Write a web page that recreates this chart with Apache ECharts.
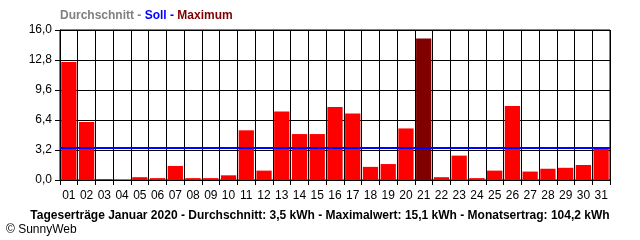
<!DOCTYPE html>
<html><head><meta charset="utf-8">
<script src="https://cdn.jsdelivr.net/npm/echarts@6/dist/echarts.min.js"></script>
<style>html,body{margin:0;padding:0;background:#fff}#c{width:640px;height:240px}</style>
</head><body><div id="c"></div>
<script>
const days = ['01','02','03','04','05','06','07','08','09','10','11','12','13','14','15','16','17','18','19','20','21','22','23','24','25','26','27','28','29','30','31'];
const yields = [12.6,6.2,0.1,0,0.3,0.2,1.5,0.2,0.2,0.5,5.3,1.0,7.3,4.9,4.9,7.8,7.1,1.4,1.7,5.5,15.1,0.3,2.6,0.2,1.0,7.9,0.9,1.2,1.3,1.6,3.5];
const target = 3.4;
const yTicks = [0, 3.2, 6.4, 9.6, 12.8, 16.0];
const maxVal = Math.max(...yields);

const chart = echarts.init(document.getElementById('c'), null, {renderer:'canvas'});
const font = 'Liberation Sans, Arial, sans-serif';
chart.setOption({
  animation:false,
  grid:{left:60,right:30,top:30,bottom:60,show:true,borderColor:'#000',borderWidth:1},
  xAxis:{type:'category',data:days,boundaryGap:true,
    axisLine:{lineStyle:{color:'#000',width:1}},
    axisTick:{show:true,length:5,lineStyle:{color:'#000'},alignWithLabel:false},
    axisLabel:{interval:0,color:'#000',fontFamily:font,fontSize:12,margin:10},
    splitLine:{show:true,interval:0,lineStyle:{color:'#000',width:1}}},
  yAxis:{type:'value',min:0,max:16,interval:3.2,
    axisLine:{show:true,lineStyle:{color:'#000'}},
    axisTick:{show:true,length:5,lineStyle:{color:'#000'}},
    axisLabel:{color:'#000',fontFamily:font,fontSize:12,margin:8,
      formatter:v=>v.toFixed(1).replace('.',',')},
    splitLine:{show:true,lineStyle:{color:'#000',width:1}}},
  series:[{type:'bar',barCategoryGap:'14%',
    data:yields.map(v=>({value:v,itemStyle:{color:v===maxVal?'#800000':'#ff0000'}})),
    markLine:{silent:true,symbol:'none',label:{show:false},
      lineStyle:{color:'#0000ff',width:2,type:'solid'},
      data:[{yAxis:target}]}}],
  graphic:[
    {type:'text',left:60,top:10,style:{
      text:'{g|Durchschnitt - }{b|Soll - }{r|Maximum}',
      rich:{g:{fill:'#808080',fontWeight:'bold',fontSize:12,fontFamily:font},
            b:{fill:'#0000ff',fontWeight:'bold',fontSize:12,fontFamily:font},
            r:{fill:'#800000',fontWeight:'bold',fontSize:12,fontFamily:font}}}},
    {type:'text',x:320,y:210,style:{
      text:'Tageserträge Januar 2020 - Durchschnitt: 3,5 kWh - Maximalwert: 15,1 kWh - Monatsertrag: 104,2 kWh',
      fill:'#000',fontWeight:'bold',fontSize:12,fontFamily:font,align:'center'}},
    {type:'text',x:6,y:224,style:{text:'© SunnyWeb',fill:'#000',fontSize:12,fontFamily:font}}
  ]
});
</script></body></html>
